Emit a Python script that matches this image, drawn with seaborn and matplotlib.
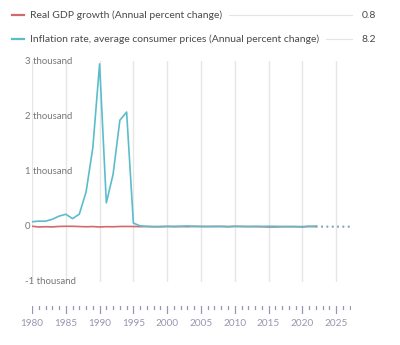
import numpy as np
import pandas as pd
import matplotlib
matplotlib.use("Agg")
import matplotlib.pyplot as plt
import seaborn as sns

# Annual series, 1980-2022 actual, 2023-2027 projected
years = list(range(1980, 2028))
gdp_growth = [9.2, -4.3, 0.8, -2.9, 5.4, 7.9, 8.0, 3.6, -0.1, 3.2,
              -4.3, 1.5, -0.5, 4.7, 5.3, 4.4, 2.2, 3.4, 0.3, 0.5,
              4.4, 1.4, 3.1, 1.1, 5.8, 3.2, 4.0, 6.1, 5.1, -0.1,
              7.5, 4.0, 1.9, 3.0, 0.5, -3.5, -3.3, 1.3, 1.8, 1.2,
              -3.3, 4.8, 2.9, 0.9, 1.5, 1.9, 2.0, 2.0]
inflation = [90.2, 101.7, 100.5, 135.0, 192.1, 226.0, 147.1, 228.3, 629.1, 1430.7,
             2947.7, 432.8, 951.6, 1928.0, 2075.9, 66.0, 15.8, 6.9, 3.2, 4.9,
             7.1, 6.8, 8.5, 14.7, 6.6, 6.9, 4.2, 3.6, 5.7, 4.9,
             5.0, 6.6, 5.4, 6.2, 6.3, 9.0, 8.7, 3.4, 3.7, 3.7,
             3.2, 8.3, 9.3, 4.7, 4.0, 3.5, 3.0, 3.0]
last_actual = 2022
series_names = ["Real GDP growth (Annual percent change)",
                "Inflation rate, average consumer prices (Annual percent change)"]
legend_values = ["0.8", "8.2"]
y_ticks = [-1000, 0, 1000, 2000, 3000]
y_tick_labels = ["-1 thousand", "0", "1 thousand", "2 thousand", "3 thousand"]
x_ticks = list(range(1980, 2030, 5))

colors = ["#d4686c", "#5bbdcb"]
text_color = "#777777"
axis_color = "#9896b0"

plt.rcParams["font.family"] = ["Lato", "DejaVu Sans"]

df = pd.DataFrame({"year": years, series_names[0]: gdp_growth, series_names[1]: inflation})
long = df.melt(id_vars="year", var_name="series", value_name="value")
actual = long[long["year"] <= last_actual]
projected = long[long["year"] >= last_actual]

W, H = 400, 345
fig = plt.figure(figsize=(W / 100, H / 100), dpi=100)

x0_px, x1_px = 32, 351
y_top_px, y_bot_px = 61, 282
xlim = (1980, 2027.2)
ax = fig.add_axes([x0_px / W, 1 - y_bot_px / H, (x1_px - x0_px) / W, (y_bot_px - y_top_px) / H])

palette = dict(zip(series_names, colors))
sns.lineplot(data=actual, x="year", y="value", hue="series", palette=palette,
             linewidth=1.2, legend=False, ax=ax, zorder=3)
sns.lineplot(data=projected, x="year", y="value", hue="series", palette=palette,
             linewidth=1.2, linestyle=(0, (1, 2.2)), legend=False, ax=ax, zorder=3)

ax.set_xlim(*xlim)
ax.set_ylim(-1000, 3000)
for yr in x_ticks:
    ax.axvline(yr, color="#e6e6e6", linewidth=1.0, zorder=1)
for s in ax.spines.values():
    s.set_visible(False)
ax.set_xticks([])
ax.set_yticks([])
ax.set_xlabel("")
ax.set_ylabel("")
ax.patch.set_alpha(0)

# y tick labels, left aligned at the figure edge
for v, lab in zip(y_ticks, y_tick_labels):
    y_px = y_bot_px - (v - (-1000)) / 4000 * (y_bot_px - y_top_px)
    fig.text(25 / W, 1 - y_px / H, lab, ha="left", va="center",
             fontsize=6.9, color=text_color)

# separate year axis below the plot
tax = fig.add_axes([x0_px / W, 1 - 314 / H, (x1_px - x0_px) / W, 8 / H])
tax.set_xlim(*xlim)
tax.set_ylim(0, 1)
tax.axis("off")
for yr in range(1980, 2028):
    if yr % 5 == 0:
        tax.plot([yr, yr], [0.05, 0.95], color=axis_color, linewidth=0.9)
    else:
        tax.plot([yr, yr], [0.6, 0.95], color=axis_color, linewidth=0.9)
for yr in x_ticks:
    x_px = x0_px + (yr - xlim[0]) / (xlim[1] - xlim[0]) * (x1_px - x0_px)
    fig.text(x_px / W, 1 - 323 / H, str(yr), ha="center", va="center",
             fontsize=7.2, color=axis_color)

# legend rows with leader line and value
renderer = fig.canvas.get_renderer()
for i, (name, val, c) in enumerate(zip(series_names, legend_values, colors)):
    y_px = 15 + i * 24
    yf = 1 - y_px / H
    fig.add_artist(plt.Line2D([12 / W, 24 / W], [yf, yf], color=c, linewidth=1.6))
    t = fig.text(30 / W, yf, name, ha="left", va="center", fontsize=7.5, color="#4a4a4a")
    bb = t.get_window_extent(renderer=renderer)
    start = bb.x1 / W + 7 / W
    fig.add_artist(plt.Line2D([start, 352 / W], [yf, yf], color="#e4e4e4", linewidth=0.8))
    fig.text(362 / W, yf, val, ha="left", va="center", fontsize=7.5, color="#4a4a4a")

fig.savefig("out.png", dpi=100, facecolor="white")
